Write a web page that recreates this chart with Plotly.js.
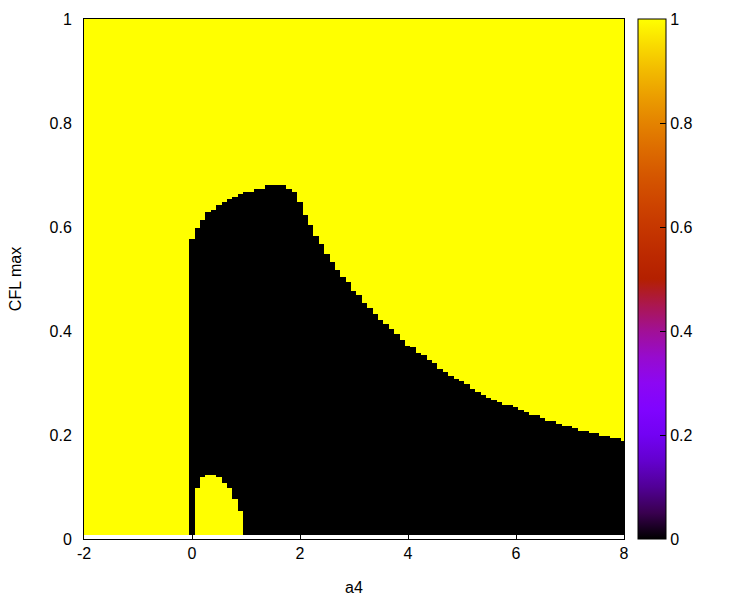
<!DOCTYPE html>
<html>
<head>
<meta charset="utf-8">
<script src="https://cdn.plot.ly/plotly-3.0.1.min.js"></script>
<style>
  body { margin: 0; background: #fff; }
  #chart { width: 750px; height: 600px; }
</style>
</head>
<body>
<div id="chart"></div>
<script>
// a4 grid (column centres)
var a4 = [-2.0,-1.9,-1.8,-1.7,-1.6,-1.5,-1.4,-1.3,-1.2,-1.1,
  -1.0,-0.9,-0.8,-0.7,-0.6,-0.5,-0.4,-0.3,-0.2,-0.1,
  0.0,0.1,0.2,0.3,0.4,0.5,0.6,0.7,0.8,0.9,
  1.0,1.1,1.2,1.3,1.4,1.5,1.6,1.7,1.8,1.9,
  2.0,2.1,2.2,2.3,2.4,2.5,2.6,2.7,2.8,2.9,
  3.0,3.1,3.2,3.3,3.4,3.5,3.6,3.7,3.8,3.9,
  4.0,4.1,4.2,4.3,4.4,4.5,4.6,4.7,4.8,4.9,
  5.0,5.1,5.2,5.3,5.4,5.5,5.6,5.7,5.8,5.9,
  6.0,6.1,6.2,6.3,6.4,6.5,6.6,6.7,6.8,6.9,
  7.0,7.1,7.2,7.3,7.4,7.5,7.6,7.7,7.8,7.9,
  8.0];

// CFL max where the black region (value 0) ends, per a4 column
var cflTop = [0,0,0,0,0,0,0,0,0,0,
  0,0,0,0,0,0,0,0,0,0,
  0.579,0.599,0.614,0.629,0.633,0.643,0.649,0.654,0.658,0.664,
  0.668,0.668,0.674,0.674,0.680,0.680,0.680,0.680,0.674,0.668,
  0.649,0.624,0.604,0.583,0.568,0.549,0.533,0.518,0.504,0.495,
  0.479,0.470,0.454,0.445,0.433,0.423,0.414,0.404,0.395,0.383,
  0.373,0.370,0.358,0.354,0.345,0.339,0.329,0.323,0.314,0.308,
  0.304,0.298,0.289,0.283,0.279,0.273,0.269,0.264,0.258,0.258,
  0.254,0.248,0.244,0.239,0.239,0.233,0.229,0.229,0.223,0.219,
  0.219,0.214,0.208,0.208,0.204,0.204,0.198,0.198,0.194,0.194,
  0.189];

// small yellow pocket at the bottom (value 1 below this CFL)
var cflPocket = [0,0,0,0,0,0,0,0,0,0,
  0,0,0,0,0,0,0,0,0,0,
  0,0.098,0.119,0.123,0.123,0.119,0.108,0.098,0.079,0.054,
  0,0,0,0,0,0,0,0,0,0,
  0,0,0,0,0,0,0,0,0,0,
  0,0,0,0,0,0,0,0,0,0,
  0,0,0,0,0,0,0,0,0,0,
  0,0,0,0,0,0,0,0,0,0,
  0,0,0,0,0,0,0,0,0,0,
  0,0,0,0,0,0,0,0,0,0,
  0];

// y sampling of the map
var cflRows = [];
var z = [];
for (var i = 0; i < 496; i++) {
  var y = 0.008 + 0.002 * (i + 0.5);
  cflRows.push(y);
  var row = [];
  for (var j = 0; j < a4.length; j++) {
    row.push((y > cflPocket[j] && y < cflTop[j]) ? 0 : 1);
  }
  z.push(row);
}

// gnuplot default palette (rgbformulae 7,5,15)
var escala = [];
for (var k = 0; k <= 20; k++) {
  var t = k / 20;
  var r = Math.round(255 * Math.sqrt(t));
  var g = Math.round(255 * Math.pow(t, 3));
  var b = Math.round(255 * Math.max(0, Math.sin(2 * Math.PI * t)));
  escala.push([t, 'rgb(' + r + ',' + g + ',' + b + ')']);
}

var fuente = 'Liberation Sans, Arial, sans-serif';

var traza = {
  type: 'heatmap',
  x: a4,
  y: cflRows,
  z: z,
  zmin: 0,
  zmax: 1,
  zsmooth: false,
  colorscale: escala,
  hoverinfo: 'skip',
  colorbar: {
    x: 1.026,
    xanchor: 'left',
    xpad: 0,
    ypad: 0,
    y: 0.5,
    len: 1,
    thickness: 28,
    outlinecolor: 'black',
    outlinewidth: 1,
    tickvals: [0, 0.2, 0.4, 0.6, 0.8, 1],
    ticktext: ['0', '0.2', '0.4', '0.6', '0.8', '1'],
    tickprefix: '\u2007',
    ticks: 'inside',
    ticklen: 6,
    tickcolor: 'black',
    tickfont: { family: fuente, size: 16, color: 'black' }
  }
};

var layout = {
  width: 750,
  height: 600,
  margin: { l: 84, r: 126, t: 19, b: 61 },
  paper_bgcolor: 'white',
  plot_bgcolor: 'white',
  showlegend: false,
  font: { family: fuente, size: 16, color: 'black' },
  xaxis: {
    range: [-2, 8],
    tickvals: [-2, 0, 2, 4, 6, 8],
    ticktext: ['-2', '0', '2', '4', '6', '8'],
    ticks: 'inside',
    ticklen: 6,
    tickcolor: 'black',
    showgrid: false,
    zeroline: false,
    showline: true,
    mirror: true,
    linecolor: 'black',
    linewidth: 1,
    automargin: false,
    title: { text: 'a4', standoff: 20, font: { size: 16 } }
  },
  yaxis: {
    range: [0, 1],
    tickvals: [0, 0.2, 0.4, 0.6, 0.8, 1],
    ticktext: ['0', '0.2', '0.4', '0.6', '0.8', '1'],
    ticks: '',
    ticklabelstandoff: 8,
    showgrid: false,
    zeroline: false,
    showline: true,
    mirror: true,
    linecolor: 'black',
    linewidth: 1,
    automargin: false,
    title: { text: 'CFL max', standoff: 23, font: { size: 16 } }
  }
};

Plotly.newPlot('chart', [traza], layout, { staticPlot: true });
</script>
</body>
</html>
